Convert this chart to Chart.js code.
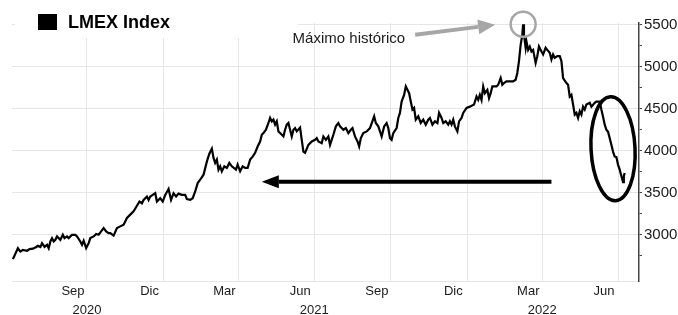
<!DOCTYPE html>
<html><head><meta charset="utf-8">
<script src="https://cdn.jsdelivr.net/npm/chart.js@4.4.0/dist/chart.umd.min.js"></script>
<style>html,body{margin:0;padding:0;background:#fff;}#wrap{width:678px;height:315px;}</style>
</head><body><div id="wrap"><canvas id="c" width="678" height="315"></canvas></div>
<script>
// Days since 2020-07-01
const days = [
3,9,12,15,20,23,27,31,33,36,
38,41,44,46,48,50,52,54,56,60,
63,65,68,70,74,78,80,84,86,88,
91,94,96,100,103,106,109,112,115,118,
120,124,128,132,136,140,144,148,152,155,
158,160,164,166,168,171,174,176,180,183,
186,190,193,196,199,202,206,210,212,216,
219,222,225,228,232,236,239,242,244,246,
248,250,252,254,257,260,263,266,271,273,
276,279,282,285,288,291,294,297,300,302,
304,307,310,312,314,316,318,320,322,324,
328,330,332,334,336,338,340,342,344,348,
350,352,354,358,362,366,368,370,374,376,
379,382,384,386,388,391,394,396,400,403,
406,409,411,414,417,419,421,424,428,432,
437,439,442,444,446,449,452,454,456,458,
460,464,466,468,470,473,475,477,479,481,
483,485,487,490,493,496,499,502,504,507,
510,513,515,518,520,523,526,528,530,532,
534,537,539,542,544,548,552,557,560,562,
564,566,568,570,573,575,577,579,584,586,
589,591,593,596,600,604,607,609,611,613,
615,616,617,619,620,622,624,626,628,631,
633,635,638,640,643,645,648,650,652,654,
657,660,662,664,668,670,672,674,676,678,
680,682,684,686,688,690,692,696,698,702,
704,708,710,712,714,716,718,720,722,724,
726,728,730,732,734,736,737,738];
const lmex = [
2710,2840,2800,2820,2810,2830,2835,2855,2870,2855,
2900,2855,2880,2840,2920,2960,2920,2940,2980,2940,
3000,2960,2980,2960,3000,3000,2980,2920,2880,2930,
2840,2900,2960,2980,3010,3000,3040,3080,3040,3020,
3020,2990,3080,3100,3120,3200,3240,3280,3345,3395,
3375,3415,3455,3415,3455,3475,3495,3395,3435,3395,
3475,3545,3415,3495,3455,3490,3475,3475,3425,3415,
3435,3515,3615,3655,3715,3870,3965,4025,3915,3855,
3895,3775,3815,3755,3815,3795,3855,3815,3775,3835,
3755,3815,3795,3795,3895,3930,3975,4050,4110,4190,
4210,4250,4330,4390,4350,4370,4310,4350,4230,4210,
4170,4250,4310,4330,4250,4170,4250,4270,4230,4275,
4130,3990,3975,4070,4110,4130,4150,4110,4090,4170,
4130,4170,4070,4130,4190,4290,4330,4290,4250,4270,
4210,4250,4270,4170,4110,4050,4150,4210,4230,4270,
4410,4330,4290,4230,4170,4290,4330,4270,4150,4130,
4210,4270,4390,4450,4585,4665,4765,4725,4685,4585,
4490,4510,4370,4410,4330,4370,4310,4370,4390,4310,
4350,4330,4450,4390,4330,4350,4310,4350,4310,4370,
4290,4230,4350,4390,4450,4510,4525,4550,4645,4605,
4665,4605,4765,4685,4725,4625,4685,4765,4765,4785,
4865,4785,4805,4825,4825,4825,4845,4925,5065,5260,
5380,5505,5380,5225,5300,5200,5240,5180,5200,5045,
5125,5240,5180,5145,5225,5200,5165,5085,5145,5105,
5125,5125,5065,4865,4805,4785,4645,4665,4550,4430,
4450,4390,4470,4430,4525,4490,4550,4570,4525,4570,
4585,4585,4490,4405,4310,4250,4225,4150,4070,3990,
3930,3925,3835,3775,3700,3625,3700,3735];

const monthTickDays = [92,184,274,365,457,549,639,730];
const monthTickLabels = ['Sep','Dic','Mar','Jun','Sep','Dic','Mar','Jun'];
const yearTickDays = [92,365,639];
const yearTickLabels = ['2020','2021','2022'];
const yMajorTicks = [3000,3500,4000,4500,5000,5500];
const yMinorTicks = [2750,3250,3750,4250,4750,5250];
const seriesName = 'LMEX Index';
const peakLabel = 'Máximo histórico';
// annotation anchors (data space)
const dropCenter = {day:724, value:4024};
const arrowFrom = {day:650, value:3630};
const arrowTo = {day:302, value:3630};

const FONT = '"Liberation Sans", Arial, sans-serif';
Chart.defaults.font.family = FONT;

function arrow(ctx,x1,y1,x2,y2,color,w,hl,hw){
  const a=Math.atan2(y2-y1,x2-x1);
  const bx=x2-hl*Math.cos(a), by=y2-hl*Math.sin(a);
  ctx.strokeStyle=color; ctx.lineWidth=w; ctx.lineCap='butt';
  ctx.beginPath(); ctx.moveTo(x1,y1); ctx.lineTo(bx,by); ctx.stroke();
  ctx.fillStyle=color; ctx.beginPath(); ctx.moveTo(x2,y2);
  ctx.lineTo(bx+hw*Math.sin(a), by-hw*Math.cos(a));
  ctx.lineTo(bx-hw*Math.sin(a), by+hw*Math.cos(a));
  ctx.closePath(); ctx.fill();
}

const annot = {
  id:'annot',
  afterDraw(chart){
    const ctx = chart.ctx, x = chart.scales.x, y = chart.scales.y;
    ctx.save();
    ctx.fillStyle='#fff'; ctx.fillRect(15,0,283,38);
    ctx.fillStyle='#000'; ctx.fillRect(38,14,19,16);
    ctx.font='bold 18px '+FONT; ctx.textBaseline='middle'; ctx.textAlign='left';
    ctx.fillText(seriesName, 68, 23);
    // peak circle
    let pi=0; lmex.forEach((v,i)=>{ if(v>lmex[pi]) pi=i; });
    const px=x.getPixelForValue(days[pi]), py=y.getPixelForValue(lmex[pi]);
    ctx.strokeStyle='#a6a6a6'; ctx.lineWidth=2.5;
    ctx.beginPath(); ctx.arc(px,py,12.5,0,Math.PI*2); ctx.stroke();
    arrow(ctx, px-108, py+10.5, px-28, py+0.5, '#a6a6a6', 4, 17, 7.5);
    ctx.fillStyle='#1a1a1a'; ctx.font='15px '+FONT; ctx.textAlign='right';
    ctx.fillText(peakLabel, px-118, py+15);
    // ellipse
    const ex=x.getPixelForValue(dropCenter.day), ey=y.getPixelForValue(dropCenter.value);
    ctx.strokeStyle='#000'; ctx.lineWidth=3.5;
    ctx.beginPath(); ctx.ellipse(ex,ey,22,52,-0.05,0,Math.PI*2); ctx.stroke();
    // black arrow
    arrow(ctx, x.getPixelForValue(arrowFrom.day), y.getPixelForValue(arrowFrom.value),
          x.getPixelForValue(arrowTo.day), y.getPixelForValue(arrowTo.value), '#000', 4, 17, 6.5);
    ctx.restore();
  }
};

new Chart(document.getElementById('c'), {
  type:'line',
  data:{ datasets:[{
    label: seriesName,
    data: days.map((d,i)=>({x:d, y:lmex[i]})),
    borderColor:'#000', borderWidth:2.2, pointRadius:0, tension:0, fill:false,
    xAxisID:'x', yAxisID:'y'
  }]},
  options:{
    responsive:false, animation:false, devicePixelRatio:1,
    layout:{ padding:{left:12, top:23, right:0, bottom:0} },
    plugins:{ legend:{display:false}, tooltip:{enabled:false} },
    scales:{
      x:{
        type:'linear', position:'bottom', min:1.9, max:755.2,
        afterBuildTicks: s => { s.ticks = monthTickDays.map(v=>({value:v})); },
        afterFit: s => { s.height = 20; },
        grid:{ color:'#e6e6e6', lineWidth:1, drawTicks:false },
        border:{ color:'#e6e6e6' },
        ticks:{ autoSkip:false, maxRotation:0, padding:3, labelOffset:-14, color:'#1a1a1a',
          font:{size:13}, callback:(v,i)=>monthTickLabels[i] }
      },
      x2:{
        type:'linear', position:'bottom', min:1.9, max:755.2,
        afterBuildTicks: s => { s.ticks = yearTickDays.map(v=>({value:v})); },
        afterFit: s => { s.height = 14; },
        grid:{ display:false, drawTicks:false }, border:{ display:false },
        ticks:{ autoSkip:false, maxRotation:0, padding:2, color:'#1a1a1a',
          font:{size:13}, callback:(v,i)=>yearTickLabels[i] }
      },
      y:{
        type:'linear', position:'right', min:2450, max:5520,
        afterBuildTicks: s => { s.ticks = yMinorTicks.concat(yMajorTicks).sort((a,b)=>a-b).map(v=>({value:v})); },
        afterFit: s => { s.width = 39; },
        grid:{ color: c => (c.tick && yMajorTicks.includes(c.tick.value)) ? '#e6e6e6' : 'rgba(0,0,0,0)',
          tickColor:'#444', tickLength:3, lineWidth:1 },
        border:{ color:'#444', width:1.5 },
        ticks:{ padding:2, color:'#1a1a1a', font:{size:15},
          callback: v => yMajorTicks.includes(v) ? String(v) : '' }
      }
    }
  },
  plugins:[annot]
});
</script>
</body></html>
